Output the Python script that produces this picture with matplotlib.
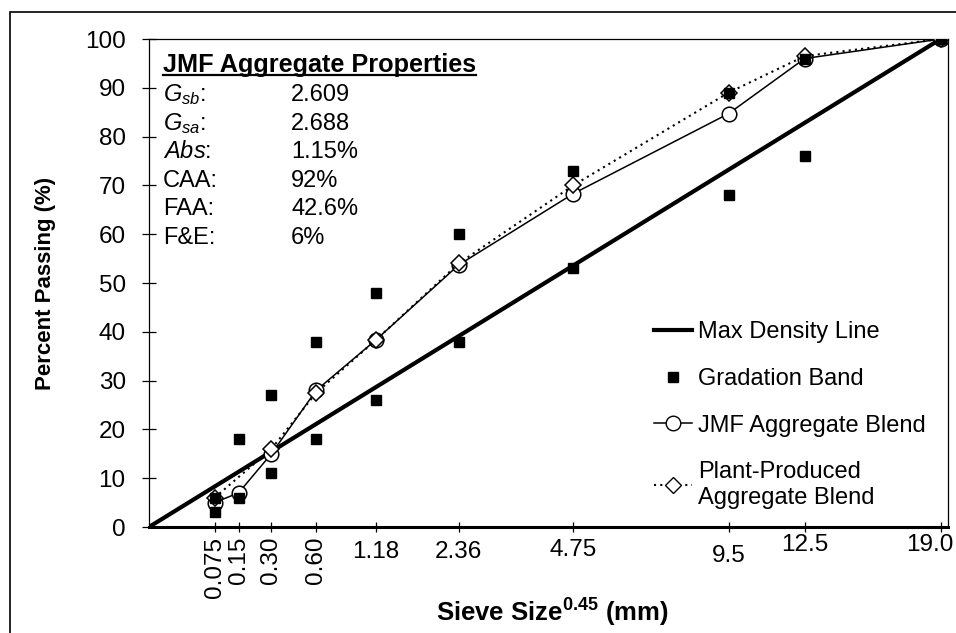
import numpy as np
import matplotlib
matplotlib.use('Agg')
import matplotlib.pyplot as plt
from matplotlib.lines import Line2D
from matplotlib.patches import Rectangle

plt.rcParams['font.family'] = ['Liberation Sans', 'DejaVu Sans']
plt.rcParams['mathtext.fontset'] = 'custom'
plt.rcParams['mathtext.rm'] = 'Liberation Sans'
plt.rcParams['mathtext.it'] = 'Liberation Sans:italic'
plt.rcParams['mathtext.bf'] = 'Liberation Sans:bold'

# ---------------- data ----------------
exponent = 0.45
sieve_labels = ['0.075', '0.15', '0.30', '0.60', '1.18', '2.36', '4.75', '9.5', '12.5', '19.0']
sieve_mm = [0.075, 0.15, 0.30, 0.60, 1.18, 2.36, 4.75, 9.5, 12.5, 19.0]
jmf_blend = [5, 7, 15, 28, 38.3, 53.7, 68.3, 84.7, 96, 100]
plant_sieves = [0.075, 0.30, 0.60, 1.18, 2.36, 4.75, 9.5, 12.5, 19.0]
plant_blend = [6, 16, 27.5, 38.3, 54, 70, 89, 96.5, 100]
band_lower = [3, 6, 11, 18, 26, 38, 53, 68, 76, 100]
band_upper = [6, 18, 27, 38, 48, 60, 73, 89, 96, 100]
max_density_sieves = [0.0, 19.0]
max_density_pass = [0, 100]
prop_names = [r'$G_{sb}$:', r'$G_{sa}$:', r'$Abs$:', 'CAA:', 'FAA:', 'F&E:']
prop_values = ['2.609', '2.688', '1.15%', '92%', '42.6%', '6%']

# ---------------- figure ----------------
W, H = 956, 633
fig = plt.figure(figsize=(W / 100, H / 100), dpi=100)

def fx(px):
    return px / W

def fy(py):
    return 1 - py / H

# outer chart border
fig.patches.append(Rectangle((fx(10), -0.1), 1.2, fy(12) + 0.1, transform=fig.transFigure,
                             fill=False, edgecolor='black', lw=1.2, zorder=0))

ax = fig.add_axes([fx(149), fy(527), fx(948) - fx(149), fy(39) - fy(527)])

xs = np.array(sieve_mm) ** exponent
xp = np.array(plant_sieves) ** exponent
xm = np.array(max_density_sieves) ** exponent

ax.plot(xm, max_density_pass, color='black', lw=3.0, zorder=2, solid_capstyle='butt')
ax.plot(xs, jmf_blend, color='black', lw=1.1, marker='o', ms=10.5, mfc='white',
        mec='black', mew=1.1, zorder=3)
ax.plot(xp, plant_blend, color='black', lw=1.5, ls=(0, (1, 2)), marker='D', ms=8,
        mfc='white', mec='black', mew=1.1, zorder=4)
ax.plot(xs, band_lower, ls='none', marker='s', ms=6.5, color='black', zorder=5)
ax.plot(xs, band_upper, ls='none', marker='s', ms=6.5, color='black', zorder=5)

ax.set_xlim(0, 3.797)
ax.set_ylim(0, 100)

for s in ['left', 'top', 'right']:
    ax.spines[s].set_linewidth(0.9)
ax.spines['bottom'].set_linewidth(2.2)

ax.set_yticks(np.arange(0, 101, 10))
ax.tick_params(axis='y', direction='inout', length=9.5, width=0.9, labelsize=17.5, pad=12)
ax.set_xticks(xs)
ax.set_xticklabels([])
ax.tick_params(axis='x', direction='inout', length=6.5, width=0.9)

# x tick labels (first four rotated, like the original)
xlab_offsets = [7, 7, 7, 7, 18, 18, 16.5, 21, 13, 13]
xlab_shift = [0, 0, 0, 0, 0, 0, 0, 0, 0, -8]
for i, (xv, lab) in enumerate(zip(xs, sieve_labels)):
    if i < 4:
        ax.annotate(lab, xy=(xv, 0), xycoords=('data', 'axes fraction'),
                    xytext=(xlab_shift[i], -xlab_offsets[i]), textcoords='offset points',
                    ha='center', va='top', rotation=90, fontsize=17.5)
    else:
        ax.annotate(lab, xy=(xv, 0), xycoords=('data', 'axes fraction'),
                    xytext=(xlab_shift[i], -xlab_offsets[i]), textcoords='offset points',
                    ha='center', va='center', fontsize=17.5)

fig.text(fx(552), fy(613), r'Sieve Size$^{\mathbf{0.45}}$ (mm)', ha='center', va='center',
         fontsize=18.5, fontweight='bold')
fig.text(fx(46), fy(283), 'Percent Passing (%)', ha='center', va='center', rotation=90,
         fontsize=16, fontweight='bold')

# properties box
title = fig.text(fx(163), fy(72), 'JMF Aggregate Properties', ha='left', va='baseline',
                 fontsize=18.2, fontweight='bold')
row_y0, row_dy = 95, 28.6
for i, (n, v) in enumerate(zip(prop_names, prop_values)):
    y = row_y0 + i * row_dy
    fig.text(fx(163), fy(y), n, ha='left', va='center', fontsize=17)
    fig.text(fx(291), fy(y), v, ha='left', va='center', fontsize=17)

# legend
handles = [
    Line2D([], [], color='black', lw=3.0),
    Line2D([], [], ls='none', marker='s', ms=6.5, color='black'),
    Line2D([], [], color='black', lw=1.1, marker='o', ms=10.5, mfc='white', mec='black'),
    Line2D([], [], color='black', lw=1.5, ls=(0, (1, 2)), marker='D', ms=8, mfc='white', mec='black'),
]
labels = ['Max Density Line', 'Gradation Band', 'JMF Aggregate Blend', 'Plant-Produced\nAggregate Blend']
leg = fig.legend(handles, labels, loc='upper left', bbox_to_anchor=(fx(654), fy(321)),
                 frameon=False, fontsize=17, handlelength=1.6, handletextpad=0.25,
                 labelspacing=1.05, borderpad=0, borderaxespad=0)

# underline for title
fig.canvas.draw()
r = fig.canvas.get_renderer()
bb = title.get_window_extent(renderer=r)
uy = fy(75)
fig.add_artist(Line2D([bb.x0 / W, bb.x1 / W], [uy, uy], transform=fig.transFigure,
                      color='black', lw=1.6))

fig.savefig('out.png', dpi=100)
